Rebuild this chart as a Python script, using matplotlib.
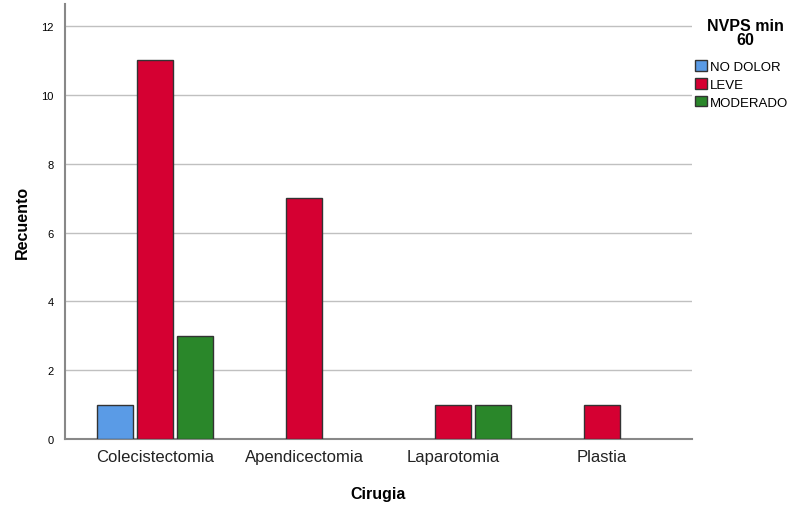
import matplotlib
matplotlib.use('Agg')
import matplotlib.pyplot as plt
import numpy as np
from matplotlib.patches import Patch

plt.rcParams['font.family'] = ['Liberation Sans', 'DejaVu Sans']

cirugias = ['Colecistectomia', 'Apendicectomia', 'Laparotomia', 'Plastia']
niveles = ['NO DOLOR', 'LEVE', 'MODERADO']
no_dolor = [1, 0, 0, 0]
leve = [11, 7, 1, 1]
moderado = [3, 0, 1, 0]
colores = ['#5a9be6', '#d50032', '#2a872a']

fig = plt.figure(figsize=(7.98, 5.06), dpi=100)
ax = fig.add_axes([0.0815, 0.1304, 0.7855, 0.8596])

x = np.arange(len(cirugias))
ancho = 0.242
paso = 0.268
for i, (serie, col) in enumerate(zip([no_dolor, leve, moderado], colores)):
    vals = np.array(serie, dtype=float)
    mask = vals > 0
    ax.bar(x[mask] + (i - 1) * paso, vals[mask], width=ancho, color=col,
           edgecolor='#333333', linewidth=1, zorder=3)

ax.set_xlim(-0.604, 3.604)
ax.set_ylim(0, 12.64)
ax.set_yticks(range(0, 13, 2))
ax.set_xticks(x)
ax.set_xticklabels(cirugias, fontsize=12, color='#222222')
ax.tick_params(axis='y', labelsize=8, length=0, pad=8)
ax.tick_params(axis='x', length=0, pad=7)
ax.grid(axis='y', color='#c0c0c0', linewidth=1, zorder=0)
for s in ['top', 'right']:
    ax.spines[s].set_visible(False)
for s in ['left', 'bottom']:
    ax.spines[s].set_color('#888888')
    ax.spines[s].set_linewidth(1.5)

ax.set_xlabel('Cirugia', fontsize=11.5, fontweight='bold', labelpad=16)
ax.set_ylabel('Recuento', fontsize=11.5, fontweight='bold', labelpad=8)

# titulo de la leyenda aparte, para controlar el espacio
fig.text(0.934, 0.963, 'NVPS min\n60', ha='center', va='top', fontsize=11.5,
         fontweight='bold', linespacing=0.95)

handles = [Patch(facecolor=c, edgecolor='#333333', label=n) for c, n in zip(colores, niveles)]
leg = fig.legend(handles=handles, loc='upper left',
                 bbox_to_anchor=(0.871, 0.879), frameon=False, fontsize=9.5,
                 handlelength=0.9, handleheight=0.9, handletextpad=0.2,
                 labelspacing=0.35, borderaxespad=0, borderpad=0)

fig.savefig('out.png', dpi=100)
